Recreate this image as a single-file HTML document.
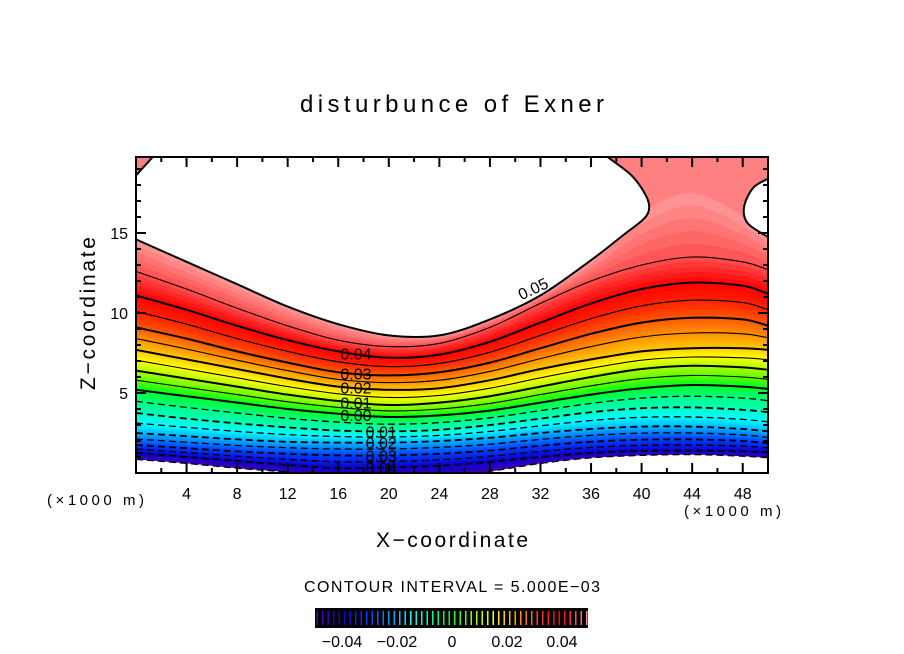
<!DOCTYPE html>
<html><head><meta charset="utf-8"><style>
body{margin:0;background:#fff;}
svg{display:block;font-family:"Liberation Sans",sans-serif;}
</style></head><body>
<svg id="chart" width="904" height="654" viewBox="0 0 904 654">
<defs><clipPath id="plotclip"><rect x="136" y="157" width="632" height="316"/></clipPath></defs>
<text x="300" y="112" font-size="24" textLength="304" lengthAdjust="spacing">disturbunce of Exner</text>
<g id="plot" clip-path="url(#plotclip)"></g>
<g id="axes"></g>
<text x="47" y="505" font-size="15" textLength="97" lengthAdjust="spacing">(×1000 m)</text>
<text x="684" y="516" font-size="15" textLength="97" lengthAdjust="spacing">(×1000 m)</text>
<text x="376" y="547" font-size="21" textLength="152" lengthAdjust="spacing">X−coordinate</text>
<text x="0" y="0" font-size="21" textLength="153" lengthAdjust="spacing" transform="translate(95,390) rotate(-90)">Z−coordinate</text>
<text x="304" y="592" font-size="16" textLength="296" lengthAdjust="spacing">CONTOUR INTERVAL = 5.000E−03</text>
<g id="cbar"></g>
</svg>
<script>
const xs=[0,4,8,12,16,20,24,28,32,36,40,44,48,50];
const levels=[-0.045,-0.04,-0.035,-0.03,-0.025,-0.02,-0.015,-0.01,-0.005,0,0.005,0.01,0.015,0.02,0.025,0.03,0.035,0.04,0.045,0.05];
const hM045=[0.85,0.6,0.3,0.05,-0.3,-0.5,-0.3,0.1,0.6,0.95,1.1,1.15,1.05,0.95];
const hM040=[1.25,1.0,0.75,0.5,0.3,0.35,0.45,0.7,1.0,1.25,1.38,1.4,1.35,1.28];
const hM035=[1.5,1.28,1.05,0.85,0.7,0.72,0.82,1.05,1.35,1.6,1.73,1.75,1.68,1.57];
const hM030=[1.75,1.55,1.35,1.2,1.1,1.1,1.2,1.4,1.7,1.95,2.08,2.1,2.0,1.85];
const hM025=[2.12,1.92,1.72,1.58,1.5,1.5,1.6,1.8,2.1,2.35,2.49,2.5,2.38,2.22];
const hM020=[2.5,2.3,2.1,1.95,1.9,1.9,2.0,2.2,2.5,2.75,2.9,2.9,2.75,2.6];
const hM015=[3.12,2.85,2.6,2.4,2.28,2.25,2.35,2.6,2.95,3.28,3.48,3.5,3.35,3.2];
const hM010=[3.75,3.4,3.1,2.85,2.65,2.6,2.7,3.0,3.4,3.8,4.05,4.1,3.95,3.8];
const hM005=[4.48,4.1,3.75,3.42,3.18,3.05,3.15,3.45,3.9,4.35,4.68,4.8,4.68,4.52];
const hP000=[5.2,4.8,4.4,4.0,3.7,3.5,3.6,3.9,4.4,4.9,5.3,5.5,5.4,5.25];
const hP005=[5.8,5.35,4.9,4.45,4.1,3.88,4.0,4.35,4.9,5.45,5.9,6.1,6.0,5.85];
const hP010=[6.4,5.9,5.4,4.9,4.5,4.25,4.4,4.8,5.4,6.0,6.5,6.7,6.6,6.45];
const hP015=[7.05,6.5,5.95,5.4,4.95,4.72,4.85,5.3,5.95,6.55,7.05,7.25,7.2,7.08];
const hP020=[7.7,7.1,6.5,5.9,5.4,5.2,5.3,5.8,6.5,7.1,7.6,7.8,7.8,7.7];
const hP025=[8.4,7.75,7.05,6.4,5.85,5.65,5.8,6.35,7.15,7.9,8.5,8.75,8.7,8.45];
const hP030=[9.1,8.4,7.6,6.9,6.3,6.1,6.3,6.9,7.8,8.7,9.4,9.7,9.6,9.2];
const hP035=[10.1,9.3,8.4,7.6,6.95,6.65,6.85,7.55,8.6,9.65,10.45,10.8,10.65,10.2];
const hP040=[11.1,10.2,9.2,8.3,7.6,7.2,7.4,8.2,9.4,10.6,11.5,11.9,11.7,11.2];
const hP045=[12.6,11.5,10.3,9.2,8.3,7.9,8.1,9.1,10.6,12.0,13.0,13.5,13.2,12.7];
const hP050=[14.6,13.2,11.8,10.4,9.3,8.6,8.6,9.6,11.1,13.3,16.2,17.5,16.0,14.75];
const heights=[hM045,hM040,hM035,hM030,hM025,hM020,hM015,hM010,hM005,hP000,hP005,hP010,hP015,hP020,hP025,hP030,hP035,hP040,hP045,hP050];
const cmapVals=[-0.05,-0.04,-0.03,-0.02,-0.015,-0.005,0,0.005,0.015,0.025,0.035,0.04,0.045,0.05];
const cmapCols=["#6000b0","#1000c8","#0040ff","#00b8ff","#00ffff","#00ff80","#00ff20","#60ff00","#ffff00","#ff9000","#ff2000","#ff0000","#ff5050","#ff9a9a"];
const topColor="#ff8080";
const blobMainX=[0,4,8,12,16,20,24,28,32,36,38.6,40.2,40.6,40.3,39.2,37.3];
const blobMainZ=[14.6,13.2,11.8,10.4,9.3,8.6,8.6,9.6,11.1,13.3,14.9,15.9,16.6,17.4,18.6,19.75];
const blobRightX=[50,48.8,48.1,48.4,50];
const blobRightZ=[18.4,17.8,16.6,15.6,14.75];
const contourLabels=["0.04","0.03","0.02","0.01","0.00","0.01","0.02","0.03","0.04"];
const contourLabelLevels=[0.04,0.03,0.02,0.01,0,-0.01,-0.02,-0.03,-0.04];
const xTicks=[4,8,12,16,20,24,28,32,36,40,44,48];
const yTicks=[5,10,15];
const cbTicks=[-0.04,-0.02,0,0.02,0.04];
const cbTickLabels=["−0.04","−0.02","0","0.02","0.04"];

const NS="http://www.w3.org/2000/svg";
const X0=136,XS=12.64,Z0=473,ZS=16;
const sx=x=>X0+x*XS, sz=z=>Z0-z*ZS;
function mk(tag,attrs,parent){const e=document.createElementNS(NS,tag);for(const k in attrs)e.setAttribute(k,attrs[k]);parent.appendChild(e);return e;}
function hex(c){return [1,3,5].map(i=>parseInt(c.substr(i,2),16));}
function cmap(v){
  if(v<=cmapVals[0])return cmapCols[0];
  for(let i=0;i<cmapVals.length-1;i++){if(v<=cmapVals[i+1]){const t=(v-cmapVals[i])/(cmapVals[i+1]-cmapVals[i]);
    const a=hex(cmapCols[i]),b=hex(cmapCols[i+1]);return "rgb("+a.map((q,j)=>Math.round(q+(b[j]-q)*t)).join(",")+")";}}
  return cmapCols[cmapCols.length-1];
}
function interp(h,x){for(let i=0;i<xs.length-1;i++){if(x<=xs[i+1]){const t=(x-xs[i])/(xs[i+1]-xs[i]);return h[i]+(h[i+1]-h[i])*t;}}return h[h.length-1];}
function smooth(p){
  let d="M"+p[0][0]+","+p[0][1];const n=p.length;
  for(let i=0;i<n-1;i++){const a=p[Math.max(0,i-1)],b=p[i],c=p[i+1],e=p[Math.min(n-1,i+2)];
    const c1=[b[0]+(c[0]-a[0])/6,b[1]+(c[1]-a[1])/6],c2=[c[0]-(e[0]-b[0])/6,c[1]-(e[1]-b[1])/6];
    d+=` C${c1[0].toFixed(2)},${c1[1].toFixed(2)} ${c2[0].toFixed(2)},${c2[1].toFixed(2)} ${c[0]},${c[1]}`;}
  return d;
}
function curvePath(h){return smooth(xs.map((x,i)=>[sx(x),sz(h[i])]));}
const plot=document.getElementById('plot');
let r=mk('rect',{x:136,y:157,width:632,height:316,fill:topColor},plot);


const N=5;
for(let k=levels.length-1;k>=1;k--){
  for(let j=N-1;j>=0;j--){
    const t=(j+1)/N;
    const h=heights[k].map((v,i)=>heights[k-1][i]+(v-heights[k-1][i])*t);
    const col=cmap(levels[k-1]+(j+0.5)/N*0.005);
    const d=curvePath(h)+` L${sx(50)},${sz(-2)} L${sx(0)},${sz(-2)} Z`;
    const p=mk('path',{d:d,fill:col,stroke:col,"stroke-width":0.6},plot);
    
    
  }
}
{const d=curvePath(heights[0])+` L${sx(50)},${sz(-2)} L${sx(0)},${sz(-2)} Z`;
 const p=mk('path',{d:d,fill:"#fff"},plot);
 
 }
for(let k=0;k<levels.length-1;k++){
  const lv=levels[k];
  const major=Math.abs(Math.round(lv*1000)%10)===0;
  const attrs={d:curvePath(heights[k]),fill:"none",stroke:"#000","stroke-width":(lv>=0&&major)?2:1.1};
  if(lv<0){attrs["stroke-dasharray"]="7,4";attrs["stroke-width"]=major?1.8:1.3;}
  const p=mk('path',attrs,plot);
  
  
}
{const pts=blobMainX.map((x,i)=>[sx(x),sz(blobMainZ[i])]);
 const d=smooth(pts)+` L${sx(1.5)},${sz(19.9)} L${sx(0)},${sz(18.6)} Z`;
 const p=mk('path',{d:d,fill:"#fff",stroke:"#000","stroke-width":2,"stroke-linejoin":"round"},plot);
 
 }
{const pts=blobRightX.map((x,i)=>[sx(x),sz(blobRightZ[i])]);
 const d=smooth(pts)+" Z";
 const p=mk('path',{d:d,fill:"#fff",stroke:"#000","stroke-width":2},plot);
 
 }
contourLabelLevels.forEach((lv,i)=>{
  const k=levels.findIndex(l=>Math.abs(l-lv)<1e-9);
  const lx=lv>=0?17.4:19.4;
  const t=mk('text',{x:sx(lx),y:sz(interp(heights[k],lx))+6,"font-size":16,"text-anchor":"middle",fill:"#000"},plot);
  t.textContent=contourLabels[i];
  
  
});
{const t=mk('text',{x:0,y:0,"font-size":16,"text-anchor":"middle",transform:`translate(${sx(31.6)},${sz(11.2)}) rotate(-25)`},plot);
 t.textContent="0.05";
 
 }
const ax=document.getElementById('axes');
for(let x=2;x<50;x+=2){const maj=x%4===0,L=maj?10:5;
  mk('line',{x1:sx(x),x2:sx(x),y1:157,y2:157+L,stroke:"#000","stroke-width":2},ax);
  mk('line',{x1:sx(x),x2:sx(x),y1:473,y2:473-L,stroke:"#000","stroke-width":2},ax);}
for(let z=1;z<20;z++){const maj=z%5===0,L=maj?10:5;
  mk('line',{x1:136,x2:136+L,y1:sz(z),y2:sz(z),stroke:"#000","stroke-width":2},ax);
  mk('line',{x1:768,x2:768-L,y1:sz(z),y2:sz(z),stroke:"#000","stroke-width":2},ax);}
{const b=mk('rect',{x:136,y:157,width:632,height:316,fill:"none",stroke:"#000","stroke-width":2},ax);
 
 }
xTicks.forEach(v=>{const t=mk('text',{x:sx(v),y:499,"font-size":16,"text-anchor":"middle"},ax);t.textContent=v;
  
  });
yTicks.forEach(v=>{const t=mk('text',{x:128,y:sz(v)+6,"font-size":16,"text-anchor":"end"},ax);t.textContent=v;
  
  });
const cb=document.getElementById('cbar');
const cx=v=>452+v*2750;
mk('rect',{x:315,y:608,width:273,height:20,fill:"#000"},cb);
for(let i=0;i<50;i++){const v=-0.05+i*0.002+0.001;
  mk('line',{x1:cx(v),x2:cx(v),y1:611,y2:625,stroke:cmap(v),"stroke-width":1.5},cb);}
cbTicks.forEach((v,i)=>{const t=mk('text',{x:cx(v),y:647,"font-size":16,"text-anchor":"middle"},cb);t.textContent=cbTickLabels[i];
  
  });
</script>
</body></html>
